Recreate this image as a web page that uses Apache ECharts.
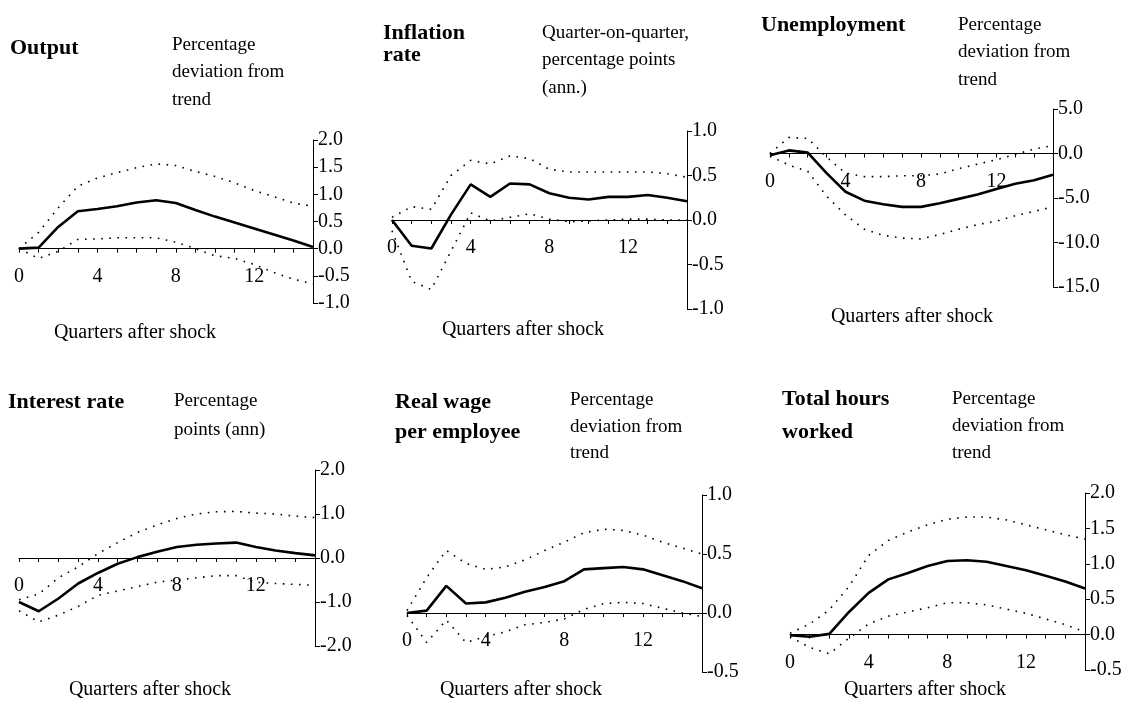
<!DOCTYPE html>
<html><head><meta charset="utf-8">
<script src="https://cdn.jsdelivr.net/npm/echarts/dist/echarts.min.js"></script>
<style>html,body{margin:0;padding:0;background:#fff}#c{width:1138px;height:704px}</style>
</head><body><div id="c"></div>
<script>
// ---- data ----
const quarters = [0,1,2,3,4,5,6,7,8,9,10,11,12,13,14,15];
const xTickLabels = ['0','4','8','12'];

const outputMid = [0, 0.02, 0.4, 0.69, 0.73, 0.78, 0.85, 0.89, 0.84, 0.71, 0.59, 0.48, 0.37, 0.26, 0.15, 0.03];
const outputUp  = [0, 0.3, 0.75, 1.15, 1.3, 1.4, 1.49, 1.56, 1.53, 1.42, 1.33, 1.21, 1.07, 0.96, 0.84, 0.78];
const outputLo  = [0, -0.18, -0.05, 0.17, 0.18, 0.2, 0.2, 0.2, 0.12, 0, -0.13, -0.18, -0.29, -0.44, -0.56, -0.65];

const inflMid = [0, -0.29, -0.32, 0.06, 0.4, 0.26, 0.41, 0.4, 0.3, 0.25, 0.23, 0.26, 0.26, 0.28, 0.25, 0.21];
const inflUp  = [0.03, 0.15, 0.12, 0.5, 0.67, 0.63, 0.72, 0.69, 0.57, 0.54, 0.54, 0.54, 0.54, 0.54, 0.52, 0.48];
const inflLo  = [-0.12, -0.69, -0.78, -0.35, 0.08, -0.01, 0.03, 0.07, 0.01, -0.02, -0.01, 0, 0.01, 0.01, 0, 0];

const unempMid = [-0.2, 0.35, 0.1, -2.2, -4.3, -5.3, -5.7, -6.0, -6.0, -5.6, -5.1, -4.6, -4.0, -3.4, -3.0, -2.4];
const unempUp  = [0, 1.8, 1.7, -0.4, -2.2, -2.6, -2.6, -2.5, -2.5, -2.3, -1.7, -1.2, -0.7, -0.1, 0.5, 0.9];
const unempLo  = [-0.3, -1.3, -2.0, -4.8, -6.9, -8.5, -9.2, -9.5, -9.6, -9.1, -8.5, -8.0, -7.6, -7.0, -6.5, -6.0];

const intMid = [-1.0, -1.21, -0.92, -0.58, -0.34, -0.13, 0.02, 0.14, 0.25, 0.3, 0.33, 0.35, 0.25, 0.17, 0.11, 0.06];
const intUp  = [-0.95, -0.82, -0.45, -0.2, 0.1, 0.35, 0.58, 0.75, 0.9, 1.0, 1.05, 1.06, 1.02, 1.0, 0.95, 0.92];
const intLo  = [-1.2, -1.45, -1.3, -1.1, -0.85, -0.75, -0.65, -0.55, -0.5, -0.45, -0.4, -0.4, -0.55, -0.58, -0.6, -0.62];

const wageMid = [0, 0.02, 0.23, 0.08, 0.09, 0.13, 0.18, 0.22, 0.27, 0.37, 0.38, 0.39, 0.37, 0.32, 0.27, 0.21];
const wageUp  = [0.02, 0.3, 0.53, 0.42, 0.37, 0.39, 0.45, 0.53, 0.6, 0.68, 0.71, 0.7, 0.66, 0.6, 0.55, 0.5];
const wageLo  = [-0.02, -0.25, -0.06, -0.25, -0.2, -0.16, -0.1, -0.08, -0.05, 0.03, 0.08, 0.09, 0.08, 0.04, 0.0, -0.03];

const hoursMid = [-0.01, -0.03, 0.01, 0.32, 0.59, 0.78, 0.87, 0.97, 1.04, 1.05, 1.03, 0.97, 0.91, 0.83, 0.75, 0.65];
const hoursUp  = [0.02, 0.15, 0.35, 0.68, 1.12, 1.33, 1.45, 1.55, 1.63, 1.66, 1.66, 1.62, 1.55, 1.48, 1.41, 1.35];
const hoursLo  = [-0.03, -0.18, -0.27, -0.05, 0.15, 0.26, 0.32, 0.38, 0.45, 0.45, 0.42, 0.36, 0.3, 0.22, 0.14, 0.04];

const titles = ['Output', 'Inflation\nrate', 'Unemployment', 'Interest rate', 'Real wage\nper employee', 'Total hours\nworked'];
const subtitles = ['Percentage\ndeviation from\ntrend', 'Quarter-on-quarter,\npercentage points\n(ann.)', 'Percentage\ndeviation from\ntrend',
                   'Percentage\npoints (ann)', 'Percentage\ndeviation from\ntrend', 'Percentage\ndeviation from\ntrend'];
const xAxisName = 'Quarters after shock';
const yRanges = [[-1, 2, 0.5], [-1, 1, 0.5], [-15, 5, 5], [-2, 2, 1], [-0.5, 1, 0.5], [-0.5, 2, 0.5]];

// ---- layout ----
const FONT = "'Liberation Serif', 'Times New Roman', serif";
const H = 704;
const layout = [
  {grid:{left:19,  right:825, top:140, bottom:401}, t:[10,37,22],  s:[172,31,27.5], q:[135,333]},
  {grid:{left:392, right:451, top:131, bottom:395}, t:[383,22,22], s:[542,19,27.5], q:[523,330]},
  {grid:{left:770, right:85,  top:109, bottom:417}, t:[761,14,22], s:[958,11,27.5], q:[912,317]},
  {grid:{left:19,  right:823, top:470, bottom:58},  t:[8,391,22],  s:[174,386.5,29], q:[150,690]},
  {grid:{left:407, right:436, top:495, bottom:32},  t:[395,387,30], s:[570,387,26.5], q:[521,690]},
  {grid:{left:790, right:53,  top:493, bottom:34},  t:[782,382.5,33], s:[952,385.5,27], q:[925,690]}
];
const seriesSets = [
  [outputMid, outputUp, outputLo],
  [inflMid, inflUp, inflLo],
  [unempMid, unempUp, unempLo],
  [intMid, intUp, intLo],
  [wageMid, wageUp, wageLo],
  [hoursMid, hoursUp, hoursLo]
];

const pairs = arr => quarters.map((q, i) => [q, arr[i]]);
const option = {animation:false, backgroundColor:'#fff', grid:[], xAxis:[], yAxis:[], series:[], title:[], graphic:[]};

layout.forEach((L, i) => {
  const r = yRanges[i];
  const gh = H - L.grid.top - L.grid.bottom;
  // distance from zero line to grid bottom: labels sit just below the zero line
  const zeroToBottom = (0 - r[0]) / (r[1] - r[0]) * gh;
  option.grid.push(Object.assign({containLabel:false}, L.grid));
  option.xAxis.push({
    type:'value', gridIndex:i, min:0, max:15, interval:1,
    axisLine:{onZero:true, lineStyle:{color:'#000', width:1}},
    axisTick:{show:true, length:4, lineStyle:{color:'#000'}},
    splitLine:{show:false},
    axisLabel:{margin:18 - zeroToBottom, color:'#000', fontFamily:FONT, fontSize:20,
      formatter: v => xTickLabels.includes(String(v)) ? String(v) : ''}
  });
  option.yAxis.push({
    type:'value', gridIndex:i, position:'right', min:r[0], max:r[1], interval:r[2],
    axisLine:{show:true, onZero:false, lineStyle:{color:'#000', width:1}},
    axisTick:{show:true, length:5, lineStyle:{color:'#000'}},
    splitLine:{show:false},
    axisLabel:{margin:5, color:'#000', fontFamily:FONT, fontSize:20, formatter: v => v.toFixed(1)}
  });
  const [mid, up, lo] = seriesSets[i];
  option.series.push({type:'line', xAxisIndex:i, yAxisIndex:i, data:pairs(up), symbol:'none',
    lineStyle:{color:'#000', width:1.6, type:[1.6, 6.5]}, z:3});
  option.series.push({type:'line', xAxisIndex:i, yAxisIndex:i, data:pairs(lo), symbol:'none',
    lineStyle:{color:'#000', width:1.6, type:[1.6, 6.5]}, z:3});
  option.series.push({type:'line', xAxisIndex:i, yAxisIndex:i, data:pairs(mid), symbol:'none',
    lineStyle:{color:'#000', width:2.6}, z:4});
  option.title.push({text:titles[i], left:L.t[0], top:L.t[1], padding:0,
    textStyle:{fontFamily:FONT, fontSize:22, fontWeight:'bold', color:'#000', lineHeight:L.t[2]}});
  option.title.push({text:subtitles[i], left:L.s[0], top:L.s[1], padding:0,
    textStyle:{fontFamily:FONT, fontSize:19, fontWeight:'normal', color:'#000', lineHeight:L.s[2]}});
  option.graphic.push({type:'text', x:L.q[0], y:L.q[1],
    style:{text:xAxisName, fill:'#000', font:'20px ' + FONT, textAlign:'center', textVerticalAlign:'middle'}});
});

const chart = echarts.init(document.getElementById('c'), null, {renderer:'canvas'});
chart.setOption(option);
</script></body></html>
